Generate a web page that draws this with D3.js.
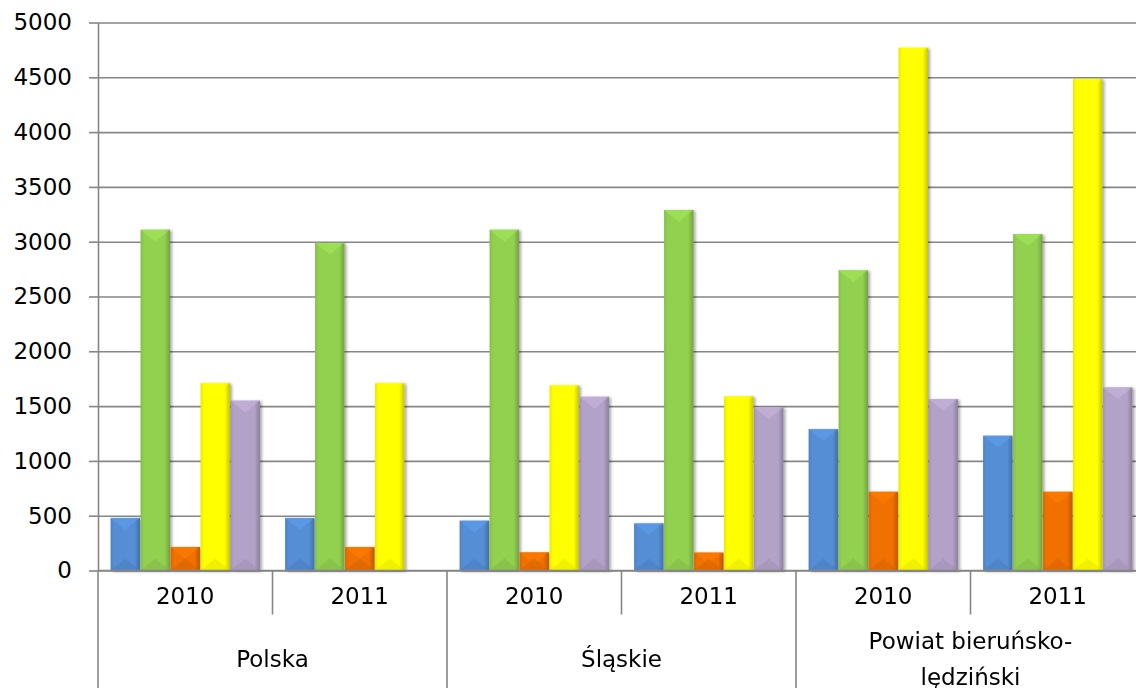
<!DOCTYPE html>
<html>
<head>
<meta charset="utf-8">
<script src="https://cdn.jsdelivr.net/npm/d3@7"></script>
<style>
  body { margin: 0; background: #fff; }
  svg { display: block; }
  text { font-family: "DejaVu Sans", sans-serif; fill: #000; }
</style>
</head>
<body>
<svg id="chart"></svg>
<script>
// Chart data
const regions = ["Polska", "Śląskie", "Powiat bieruńsko-lędziński"];
const years = ["2010", "2011"];
const blueValues = [480, 480, 455, 430, 1290, 1230];
const greenValues = [3110, 2990, 3110, 3290, 2740, 3070];
const orangeValues = [215, 215, 166, 164, 719, 719];
const yellowValues = [1710, 1710, 1690, 1590, 4770, 4485];
const purpleValues = [1550, 0, 1586, 1489, 1565, 1671];
const yTicks = [0, 500, 1000, 1500, 2000, 2500, 3000, 3500, 4000, 4500, 5000];

const seriesValues = [blueValues, greenValues, orangeValues, yellowValues, purpleValues];
const colors = ["#558ed5", "#92d050", "#f07000", "#ffff00", "#b3a2c7"];

const width = 1136, height = 688;
const margin = { top: 22.5, left: 98, bottom: 117.5 };
const plotRight = 1145; // plot area runs past the window edge
const zeroY = height - margin.bottom;

// one band per region/year pair
const groups = [];
regions.forEach((r) => years.forEach((yr) => groups.push(r + "|" + yr)));

const svg = d3.select("#chart").attr("width", width).attr("height", height);

const defs = svg.append("defs");
defs.append("filter").attr("id", "shadow")
  .attr("x", "-20%").attr("y", "-5%").attr("width", "150%").attr("height", "115%")
  .append("feDropShadow")
  .attr("dx", 2).attr("dy", 1).attr("stdDeviation", 1.5)
  .attr("flood-color", "#000").attr("flood-opacity", 0.35);

colors.forEach((c, i) => {
  const g = defs.append("linearGradient").attr("id", "grad" + i)
    .attr("x1", 0).attr("x2", 1).attr("y1", 0).attr("y2", 0);
  const base = d3.color(c);
  g.append("stop").attr("offset", "0%").attr("stop-color", base.darker(0.25));
  g.append("stop").attr("offset", "12%").attr("stop-color", base);
  g.append("stop").attr("offset", "82%").attr("stop-color", base);
  g.append("stop").attr("offset", "100%").attr("stop-color", base.darker(0.7));
});

// x scale
const x = d3.scaleBand()
  .domain(groups)
  .range([margin.left, plotRight]);

const xs = d3.scaleBand()
  .domain(d3.range(seriesValues.length))
  .range([0, x.bandwidth()])
  .paddingInner(0.02)
  .paddingOuter(0.42);

// y scale
const y = d3.scaleLinear()
  .domain([0, 5000])
  .range([zeroY, margin.top]);

// gridlines
svg.append("g")
  .attr("transform", "translate(" + margin.left + ",0)")
  .call(d3.axisLeft(y).tickValues(yTicks).tickSize(-(plotRight - margin.left)).tickFormat(""))
  .call((g) => g.select(".domain").remove())
  .call((g) => g.selectAll("line").attr("stroke", "#868686").attr("stroke-width", 1.6));

// bars
seriesValues.forEach((vals, si) => {
  const bars = svg.append("g").attr("filter", "url(#shadow)");
  const sel = bars.selectAll("g")
    .data(vals.map((v, gi) => ({ v: v, g: groups[gi] })).filter((d) => d.v > 0))
    .join("g")
    .attr("transform", (d) => "translate(" + (x(d.g) + xs(si)) + ",0)");

  sel.append("rect")
    .attr("x", 0)
    .attr("y", (d) => y(d.v))
    .attr("width", xs.bandwidth())
    .attr("height", (d) => y(0) - y(d.v))
    .attr("fill", "url(#grad" + si + ")");

  // soft bevel on top and bottom
  const w = xs.bandwidth();
  sel.append("path")
    .attr("d", (d) => {
      const t = y(d.v), b = Math.min(t + 12, y(0));
      return "M0," + t + "L" + w + "," + t + "L" + (w / 2) + "," + b + "Z";
    })
    .attr("fill", d3.color(colors[si]).brighter(0.35))
    .attr("opacity", 0.5);
  sel.append("path")
    .attr("d", (d) => {
      const b = y(0), t = Math.max(b - 12, y(d.v));
      return "M0," + b + "L" + w + "," + b + "L" + (w / 2) + "," + t + "Z";
    })
    .attr("fill", d3.color(colors[si]).darker(0.4))
    .attr("opacity", 0.45);
});

// y axis
svg.append("g")
  .attr("transform", "translate(" + margin.left + ",0)")
  .call(d3.axisLeft(y).tickValues(yTicks).tickSize(9).tickPadding(17).tickSizeOuter(0).tickFormat(d3.format("d")))
  .call((g) => g.select(".domain").attr("stroke", "#868686").attr("stroke-width", 1.6))
  .call((g) => g.selectAll("line").attr("stroke", "#868686").attr("stroke-width", 1.6))
  .call((g) => g.selectAll("text")
    .attr("font-family", "DejaVu Sans, sans-serif")
    .attr("font-size", 23)
    .attr("fill", "#000"));

// x axis line
svg.append("line")
  .attr("x1", margin.left).attr("x2", plotRight)
  .attr("y1", y(0)).attr("y2", y(0))
  .attr("stroke", "#868686").attr("stroke-width", 1.6);

// category dividers
const bounds = groups.map((g) => x(g)).concat([plotRight]);
svg.append("g").selectAll("line")
  .data(bounds)
  .join("line")
  .attr("x1", (d) => d).attr("x2", (d) => d)
  .attr("y1", y(0))
  .attr("y2", (d, i) => (i % years.length === 0 ? height : y(0) + 44))
  .attr("stroke", "#868686").attr("stroke-width", 1.6);

// year labels
svg.append("g").selectAll("text")
  .data(groups)
  .join("text")
  .attr("x", (d) => x(d) + x.bandwidth() / 2)
  .attr("y", y(0) + 33)
  .attr("text-anchor", "middle")
  .attr("font-size", 23)
  .text((d) => d.split("|")[1]);

// region labels
const regionLabels = svg.append("g").selectAll("text")
  .data(regions)
  .join("text")
  .attr("x", (d) => x(d + "|" + years[0]) + x.bandwidth())
  .attr("y", y(0) + 96)
  .attr("text-anchor", "middle")
  .attr("font-size", 23);

regionLabels.each(function (d) {
  const t = d3.select(this);
  const parts = d.indexOf("-") > 0 ? [d.slice(0, d.indexOf("-") + 1), d.slice(d.indexOf("-") + 1)] : [d];
  if (parts.length === 1) {
    t.text(d);
  } else {
    t.append("tspan").attr("x", t.attr("x")).attr("dy", -18).text(parts[0]);
    t.append("tspan").attr("x", t.attr("x")).attr("dy", 36).text(parts[1]);
  }
});
</script>
</body>
</html>
